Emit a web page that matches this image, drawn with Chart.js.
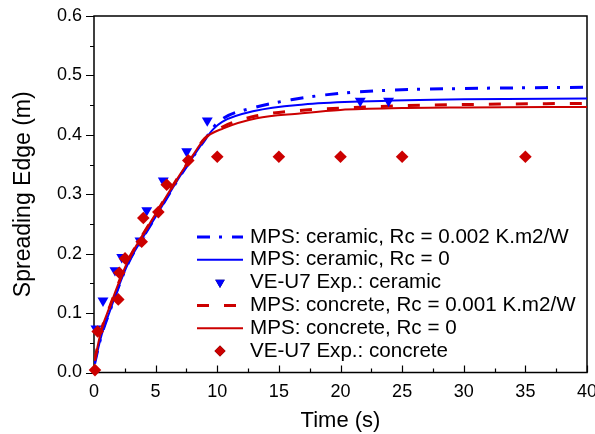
<!DOCTYPE html>
<html>
<head>
<meta charset="utf-8">
<script src="https://cdn.jsdelivr.net/npm/chart.js@4/dist/chart.umd.min.js"></script>
<style>
  html, body { margin: 0; padding: 0; background: #fff; }
  #wrap { width: 595px; height: 434px; }
</style>
</head>
<body>
<div id="wrap"><canvas id="spread" width="595" height="434"></canvas></div>
<script>
// curves (time in s, spreading edge in m)
const cerRcT = [0.05, 0.6, 1.3, 2.1, 2.8, 3.7, 5, 6, 7, 8, 9, 9.7, 10.5, 13, 16, 20, 24, 30, 40];
const cerRcY = [0.015, 0.062, 0.104, 0.15, 0.185, 0.218, 0.262, 0.297, 0.331, 0.362, 0.392, 0.413, 0.428, 0.446, 0.459, 0.47, 0.475, 0.478, 0.48];

const cer0T = [0.05, 0.6, 1.3, 2.1, 2.8, 3.7, 5, 6, 7, 8, 9, 9.7, 10.4, 13, 17, 21.6, 30, 40];
const cer0Y = [0.015, 0.062, 0.104, 0.15, 0.185, 0.218, 0.262, 0.297, 0.331, 0.362, 0.392, 0.41, 0.422, 0.44, 0.451, 0.456, 0.46, 0.461];

const conRcT = [0.05, 0.6, 1.3, 2.1, 2.8, 3.7, 5, 6, 7, 8, 9, 10.5, 13.2, 16.7, 20, 25, 30, 40];
const conRcY = [0.02, 0.072, 0.112, 0.156, 0.19, 0.223, 0.267, 0.301, 0.334, 0.365, 0.394, 0.414, 0.432, 0.441, 0.445, 0.449, 0.451, 0.453];

const con0T = [0.05, 0.6, 1.3, 2.1, 2.8, 3.7, 5, 6, 7, 8, 9, 10.5, 13.2, 16.7, 20, 25, 30, 40];
const con0Y = [0.02, 0.072, 0.112, 0.156, 0.19, 0.223, 0.267, 0.301, 0.334, 0.365, 0.394, 0.411, 0.428, 0.436, 0.442, 0.445, 0.446, 0.447];

// experiments
const expCerT = [0.16, 0.73, 1.7, 2.25, 3.73, 4.28, 5.62, 7.52, 9.19, 21.6, 23.9];
const expCerY = [0.074, 0.121, 0.172, 0.194, 0.222, 0.273, 0.323, 0.372, 0.424, 0.457, 0.457];

const expConT = [0.08, 0.3, 1.97, 2.05, 2.52, 3.87, 4.0, 5.22, 5.9, 7.65, 10, 15, 20, 25, 35];
const expConY = [0.004, 0.069, 0.123, 0.168, 0.192, 0.22, 0.26, 0.27, 0.316, 0.357, 0.363, 0.363, 0.363, 0.363, 0.363];

const xTicks = [0, 5, 10, 15, 20, 25, 30, 35, 40];
const yTicks = [0.0, 0.1, 0.2, 0.3, 0.4, 0.5, 0.6];

const labels = [
  'MPS: ceramic, Rc = 0.002 K.m2/W',
  'MPS: ceramic, Rc = 0',
  'VE-U7 Exp.: ceramic',
  'MPS: concrete, Rc = 0.001 K.m2/W',
  'MPS: concrete, Rc = 0',
  'VE-U7 Exp.: concrete'
];

const BLUE = '#0000ff';
const RED = '#cc0000';
const FONT = '"Liberation Sans", Arial, sans-serif';

function pts(xs, ys) {
  return xs.map((x, i) => ({ x: x, y: ys[i] }));
}

function lineSet(label, xs, ys, color, width, dash, order) {
  return {
    label: label,
    data: pts(xs, ys),
    showLine: true,
    borderColor: color,
    backgroundColor: color,
    borderWidth: width,
    borderDash: dash,
    pointRadius: 0,
    cubicInterpolationMode: 'monotone',
    order: order
  };
}

function markSet(label, xs, ys, color, style, rot, order) {
  return {
    label: label,
    data: pts(xs, ys),
    showLine: false,
    pointStyle: style,
    rotation: rot,
    pointRadius: 6.3,
    borderWidth: 0,
    backgroundColor: color,
    borderColor: color,
    clip: false,
    order: order
  };
}

// frame + Origin-style ticks
const framePlugin = {
  id: 'frame',
  beforeDatasetsDraw(chart) {
    const { ctx, chartArea: a, scales } = chart;
    ctx.save();
    ctx.strokeStyle = '#000';
    ctx.lineWidth = 1.5;
    ctx.strokeRect(a.left, a.top, a.right - a.left, a.bottom - a.top);
    ctx.lineWidth = 1.2;
    ctx.beginPath();
    // y ticks, outward
    for (let v = 0; v <= 0.6001; v += 0.05) {
      const y = Math.round(scales.y.getPixelForValue(v)) + 0.5;
      const major = Math.abs(v * 10 - Math.round(v * 10)) < 1e-6;
      ctx.moveTo(a.left, y);
      ctx.lineTo(a.left - (major ? 8 : 4), y);
    }
    // x ticks, inward
    for (let v = 0; v <= 40.001; v += 2.5) {
      const x = Math.round(scales.x.getPixelForValue(v)) + 0.5;
      const major = v % 5 === 0;
      ctx.moveTo(x, a.bottom);
      ctx.lineTo(x, a.bottom - (major ? 7 : 4));
    }
    ctx.stroke();
    ctx.restore();
  }
};

// legend inside the plot
const legendPlugin = {
  id: 'innerLegend',
  afterDraw(chart) {
    const ctx = chart.ctx;
    const x0 = 197, x1 = 243, tx = 250;
    let y = 237;
    ctx.save();
    ctx.font = '20.6px ' + FONT;
    ctx.textBaseline = 'middle';
    chart.data.datasets.forEach(ds => {
      if (ds.showLine) {
        ctx.strokeStyle = ds.borderColor;
        ctx.lineWidth = ds.borderWidth;
        ctx.setLineDash(ds.borderDash || []);
        ctx.beginPath();
        ctx.moveTo(x0, y);
        ctx.lineTo(x1, y);
        ctx.stroke();
        ctx.setLineDash([]);
      } else {
        Chart.helpers.drawPoint(ctx, {
          pointStyle: ds.pointStyle, rotation: ds.rotation,
          radius: 5.5, borderWidth: 0
        }, (x0 + x1) / 2, y);
        ctx.fillStyle = ds.backgroundColor;
        ctx.fill();
      }
      ctx.fillStyle = '#000';
      ctx.fillText(ds.label, tx, y);
      y += 22.8;
    });
    ctx.restore();
  }
};

const datasets = [
  lineSet(labels[0], cerRcT, cerRcY, BLUE, 3, [13, 9, 3, 10], 5),
  lineSet(labels[1], cer0T, cer0Y, BLUE, 2, [], 4),
  markSet(labels[2], expCerT, expCerY, BLUE, 'triangle', 180, 1),
  lineSet(labels[3], conRcT, conRcY, RED, 3, [12, 15], 3),
  lineSet(labels[4], con0T, con0Y, RED, 2, [], 2),
  markSet(labels[5], expConT, expConY, RED, 'rectRot', 0, 0)
];

new Chart(document.getElementById('spread'), {
  type: 'scatter',
  data: { datasets: datasets },
  options: {
    responsive: false,
    animation: false,
    events: [],
    layout: { padding: { top: 16, right: 8, bottom: 0, left: 0 } },
    plugins: { legend: { display: false }, tooltip: { enabled: false } },
    scales: {
      x: {
        type: 'linear',
        min: 0, max: 40,
        afterBuildTicks: s => { s.ticks = xTicks.map(v => ({ value: v })); },
        afterFit: s => { s.height = 61.5; s.paddingLeft = 0; s.paddingRight = 0; },
        grid: { display: false, drawTicks: false },
        border: { display: false },
        ticks: { color: '#000', padding: 9, font: { family: FONT, size: 18 } },
        title: { display: true, text: 'Time (s)', color: '#000',
                 font: { family: FONT, size: 22 }, padding: { top: 0, bottom: 0 } }
      },
      y: {
        type: 'linear',
        min: 0, max: 0.6,
        afterBuildTicks: s => { s.ticks = yTicks.map(v => ({ value: v })); },
        afterFit: s => { s.width = 94; s.paddingTop = 0; s.paddingBottom = 0; },
        grid: { display: false, drawTicks: false },
        border: { display: false },
        ticks: { color: '#000', padding: 12, font: { family: FONT, size: 18 },
                 callback: v => v.toFixed(1) },
        title: { display: true, text: 'Spreading Edge (m)', color: '#000',
                 font: { family: FONT, size: 23 }, padding: { top: 10, bottom: 0 } }
      }
    }
  },
  plugins: [framePlugin, legendPlugin]
});
</script>
</body>
</html>
